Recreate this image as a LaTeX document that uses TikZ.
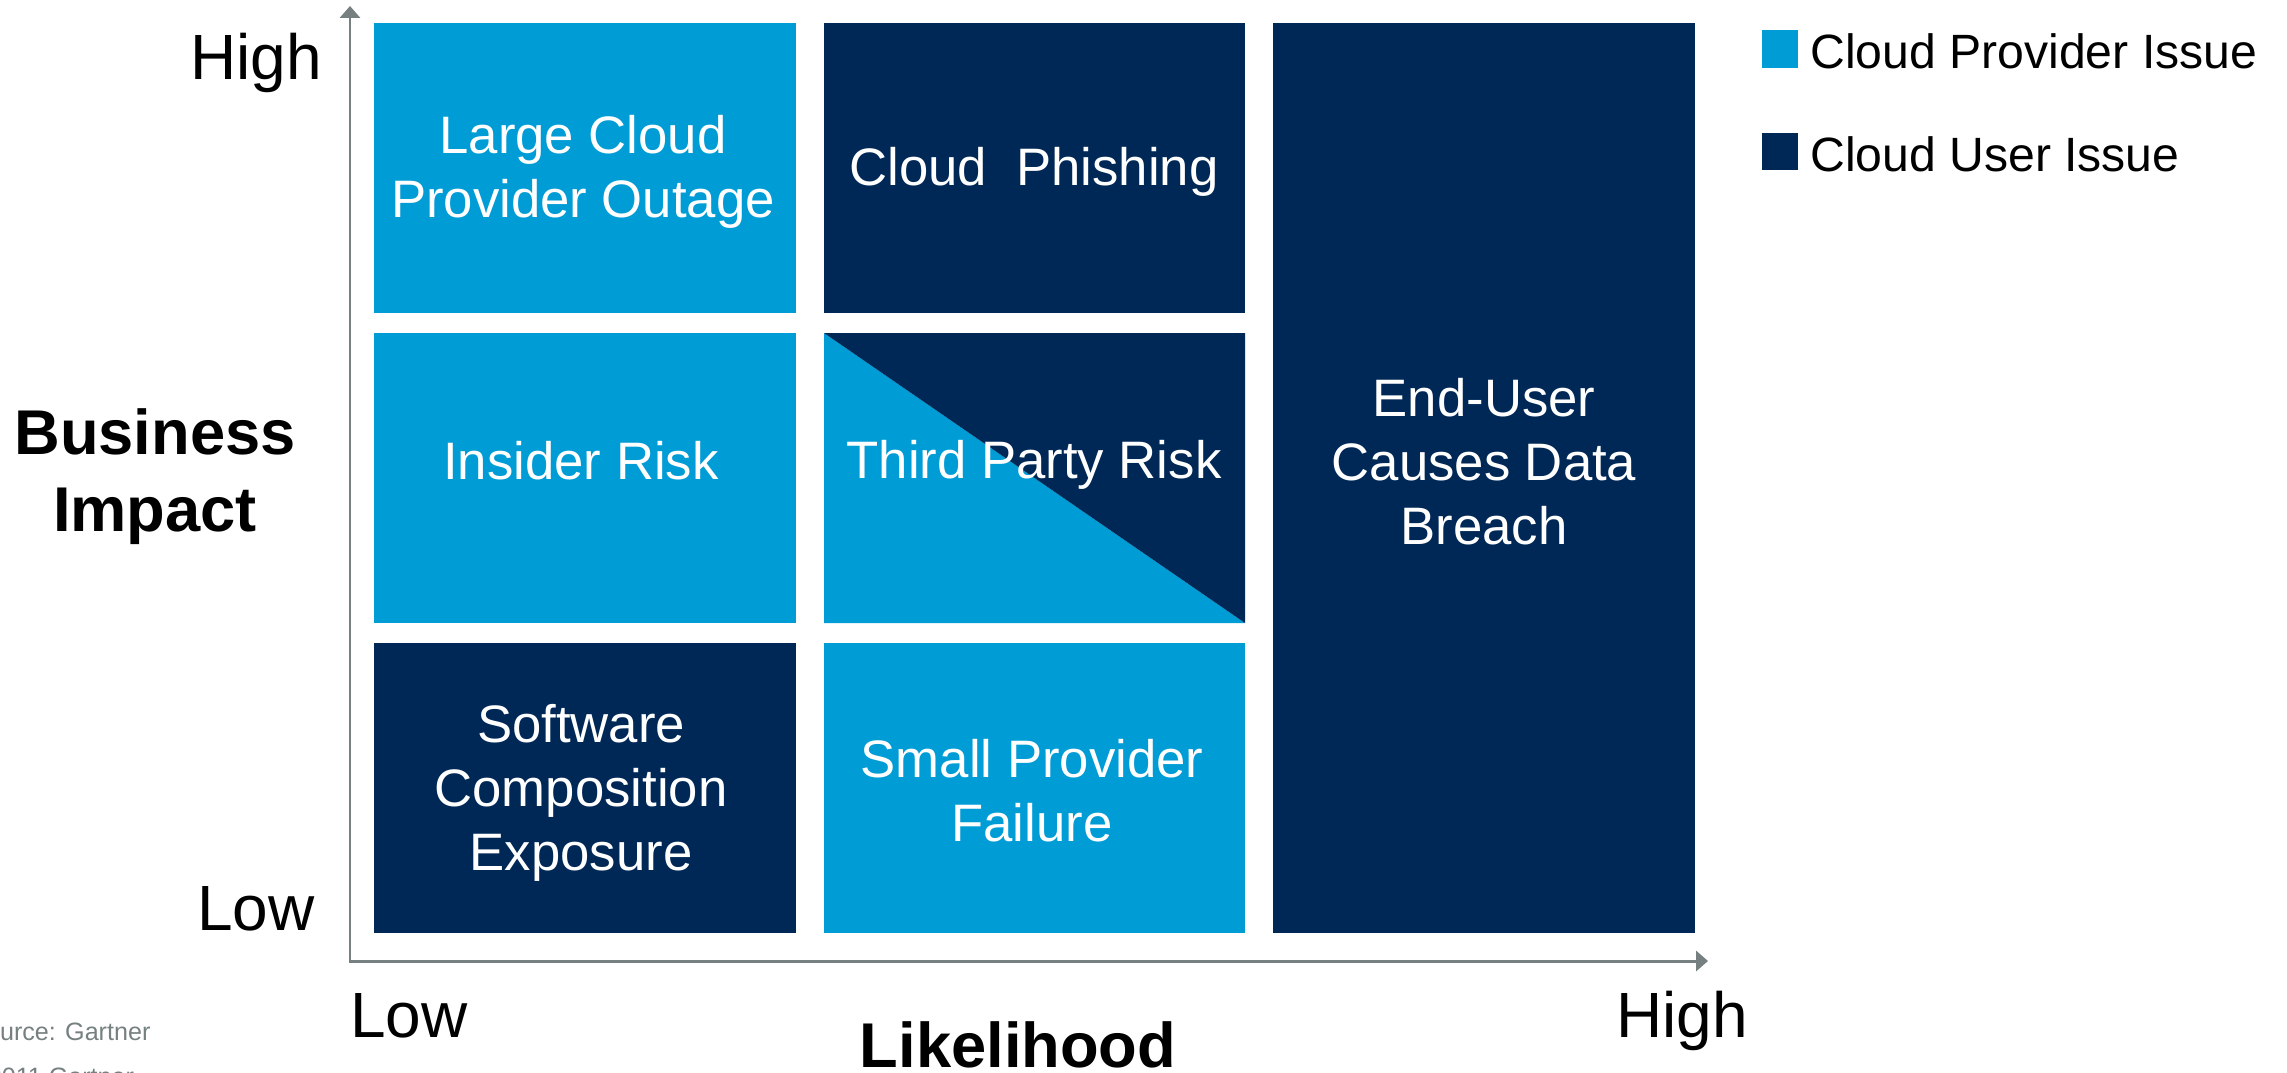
\documentclass[tikz,border=0pt]{standalone}
\usepackage{fontspec}
\setmainfont{Liberation Sans}
\usetikzlibrary{arrows.meta}
\definecolor{provider}{RGB}{0,156,214}
\definecolor{clouduser}{RGB}{0,40,86}
\definecolor{axisgray}{RGB}{118,128,128}

\begin{document}
\begin{tikzpicture}[x=0.02cm, y=-0.02cm,
    tiletext/.style={text=white, align=center, inner sep=0pt, font=\fontsize{30}{36.4}\selectfont},
    axislabel/.style={inner sep=0pt, font=\fontsize{36.4}{44}\selectfont},
    axistitle/.style={inner sep=0pt, align=center, font=\fontsize{36}{43.8}\selectfont\bfseries},
    legendtext/.style={anchor=west, inner sep=0pt, font=\fontsize{27.4}{32}\selectfont},
    axisline/.style={axisgray, line width=1.7pt,
        {Triangle[width=11.4pt, length=6.8pt]}-{Triangle[width=11.4pt, length=6.8pt]}}]
    \useasboundingbox (0,0) rectangle (2287,1072);

    % Risk tiles
    \fill[provider] (374,23) rectangle (796,313);
    \fill[clouduser] (824,23) rectangle (1245,313);
    \fill[clouduser] (1273,23) rectangle (1695,933);
    \fill[provider] (374,333) rectangle (796,623);
    \fill[provider] (824,333) -- (1245,623) -- (824,623) -- cycle;
    \fill[clouduser] (824,333) -- (1245,333) -- (1245,623) -- cycle;
    \fill[clouduser] (374,643) rectangle (796,933);
    \fill[provider] (824,643) rectangle (1245,933);

    \node[tiletext] (outage) at (583,172) {Large Cloud\\Provider Outage};
    \node[tiletext] (phishing) at (1034,172) {Cloud\ \ Phishing};
    \node[tiletext] (insider) at (581,461) {Insider Risk};
    \node[tiletext] (thirdparty) at (1034,465) {Third Party Risk};
    \node[tiletext] (breach) at (1484,462) {End-User\\Causes Data\\Breach};
    \node[tiletext] (software) at (581,793) {Software\\Composition\\Exposure};
    \node[tiletext] (smallprov) at (1032,791) {Small Provider\\Failure};

    % Axes
    \coordinate (origin) at (350,961);
    \coordinate (ytip) at (350,6);
    \coordinate (xtip) at (1708,961);
    \draw[axisline] (ytip) -- (origin) -- (xtip);

    \node[axislabel, anchor=base] (yhigh) at (256,79) {High};
    \node[axislabel, anchor=base] (ylow) at (256,930) {Low};
    \node[axislabel, anchor=base west] (xlow) at (350,1037) {Low};
    \node[axislabel, anchor=base] (xhigh) at (1682,1037) {High};
    \node[axistitle] (impact) at (155,477) {Business\\Impact};
    \node[axistitle, anchor=base] (likelihood) at (1018,1067) {Likelihood};

    % Legend
    \fill[provider] (1762,30) rectangle (1798,68);
    \node[legendtext] (providerkey) at (1810,51) {Cloud Provider Issue};
    \fill[clouduser] (1762,133) rectangle (1798,170);
    \node[legendtext] (userkey) at (1810,154) {Cloud User Issue};

    % Source note
    \node[anchor=north west, inner sep=0pt, align=left, text=axisgray,
        font=\fontsize{14.3}{25.5}\selectfont] (source) at (-31,1023)
        {Source: Gartner\\\textcopyright 2011 Gartner};
\end{tikzpicture}
\end{document}
